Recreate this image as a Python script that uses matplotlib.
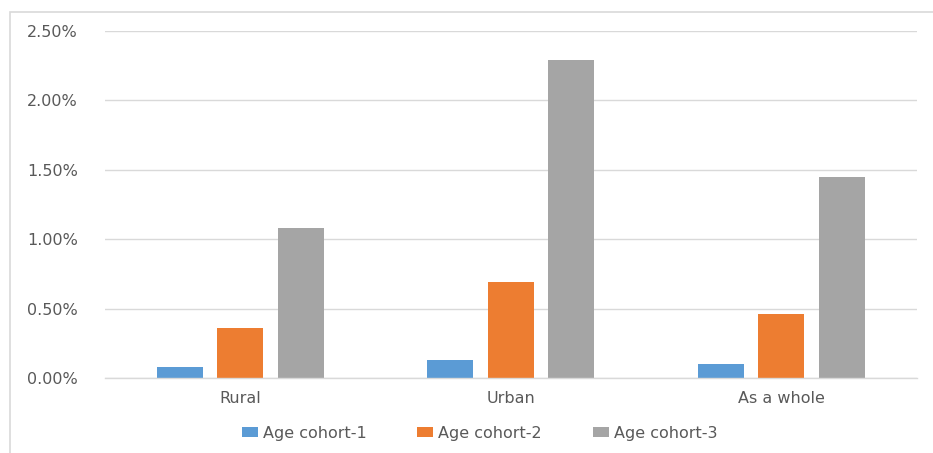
import matplotlib
matplotlib.use('Agg')
import matplotlib.pyplot as plt
import numpy as np
from matplotlib.patches import Rectangle
from matplotlib.ticker import FuncFormatter

# data (percent)
categories = ['Rural', 'Urban', 'As a whole']
series_names = ['Age cohort-1', 'Age cohort-2', 'Age cohort-3']
cohort1 = [0.08, 0.13, 0.10]
cohort2 = [0.36, 0.69, 0.46]
cohort3 = [1.08, 2.29, 1.45]
yticks = [0.0, 0.5, 1.0, 1.5, 2.0, 2.5]

colors = ['#5b9bd5', '#ed7d31', '#a5a5a5']
text_col = '#595959'
grid_col = '#d9d9d9'

plt.rcParams['font.family'] = ['DejaVu Sans']
fs = 11.5

fig = plt.figure(figsize=(9.33, 4.53), dpi=100)
ax = fig.add_axes([0.1125, 0.165, 0.87, 0.7666])

# outer chart frame
fig.patches.append(Rectangle((0.011, -0.05), 1.1, 1.0235, transform=fig.transFigure,
                             fill=False, edgecolor=grid_col, linewidth=1.2))

x = np.arange(len(categories))
width = 0.17
step = 0.224
for i, vals in enumerate([cohort1, cohort2, cohort3]):
    ax.bar(x + (i - 1) * step, vals, width, color=colors[i], label=series_names[i], zorder=3)

ax.set_xlim(-0.5, len(categories) - 0.5)
ax.set_ylim(0, 2.5)
ax.set_yticks(yticks)
ax.yaxis.set_major_formatter(FuncFormatter(lambda v, p: f'{v:.2f}%'))
ax.set_xticks(x)
ax.set_xticklabels(categories)
ax.tick_params(axis='both', length=0, colors=text_col, labelsize=fs)
ax.tick_params(axis='y', pad=56)
ax.tick_params(axis='x', pad=9)
for lab in ax.get_yticklabels():
    lab.set_horizontalalignment('left')

ax.grid(axis='y', color=grid_col, linewidth=1, zorder=0)
for s in ['top', 'right', 'left']:
    ax.spines[s].set_visible(False)
ax.spines['bottom'].set_color(grid_col)
ax.spines['bottom'].set_linewidth(1)
ax.spines['bottom'].set_zorder(4)

fig.legend(loc='center', bbox_to_anchor=(0.514, 0.044), ncol=3, frameon=False,
           fontsize=fs, handlelength=1.0, handleheight=0.65, handletextpad=0.3,
           columnspacing=3.2, labelcolor=text_col)

fig.savefig('out.png', dpi=100)
